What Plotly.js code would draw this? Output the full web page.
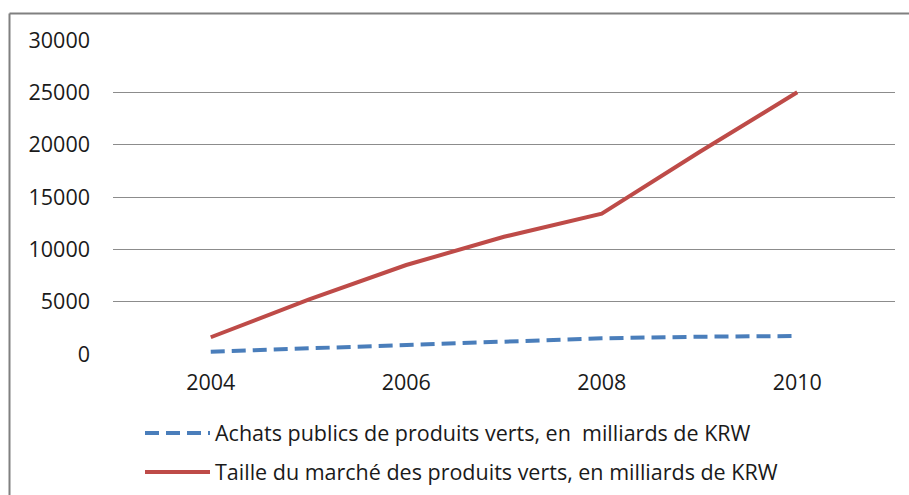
<!DOCTYPE html>
<html>
<head>
<meta charset="utf-8">
<script src="https://cdn.plot.ly/plotly-3.0.1.min.js"></script>
<style>html,body{margin:0;padding:0;background:#fff;}#chart{width:909px;height:495px;}</style>
</head>
<body>
<div id="chart"></div>
<script>
const years = [2004, 2005, 2006, 2007, 2008, 2009, 2010];
const achatsPublics = [220, 540, 920, 1180, 1500, 1650, 1720];
const tailleMarche = [1600, 5200, 8500, 11200, 13400, 19300, 25000];
const xTicks = [2004, 2006, 2008, 2010];
const yTicks = [0, 5000, 10000, 15000, 20000, 25000, 30000];
const nameAchats = "Achats publics de produits verts, en  milliards de KRW";
const nameTaille = "Taille du marché des produits verts, en milliards de KRW";

const FONT = "Open Sans, Liberation Sans, sans-serif";
const FS = 21.5;

const traces = [
  {x: years, y: achatsPublics, type: "scatter", mode: "lines", name: nameAchats,
   line: {color: "#4a7ebb", width: 4, dash: "14px,7px"}, legend: "legend"},
  {x: years, y: tailleMarche, type: "scatter", mode: "lines", name: nameTaille,
   line: {color: "#be4b48", width: 4}, legend: "legend2"}
];

const W = 909, H = 495, L = 113, R = 14, T = 40, B = 141;
const pw = W - L - R, ph = H - T - B;
const px = v => (v - L) / pw;
const py = v => (H - B - v) / ph;

const layout = {
  width: W, height: H,
  margin: {l: L, r: R, t: T, b: B, pad: 0, autoexpand: false},
  paper_bgcolor: "#ffffff", plot_bgcolor: "#ffffff",
  font: {family: FONT, size: FS, color: "#1a1a1a"},
  showlegend: true,
  xaxis: {range: [2003, 2011], tickmode: "array", tickvals: xTicks, ticktext: xTicks.map(String),
          showgrid: false, zeroline: false, showline: false, ticks: "", ticklabelstandoff: 13,
          tickfont: {size: FS, family: FONT, color: "#1a1a1a"}, fixedrange: true},
  yaxis: {range: [0, 30000], tickmode: "array", tickvals: yTicks, ticktext: yTicks.map(String),
          showgrid: true, gridcolor: "#8c8c8c", gridwidth: 1, zeroline: false, showline: false,
          ticks: "", ticklabelstandoff: 22,
          tickfont: {size: FS, family: FONT, color: "#1a1a1a"}, fixedrange: true},
  legend: {x: px(140), y: py(433), xanchor: "left", yanchor: "middle", bgcolor: "rgba(0,0,0,0)",
           font: {size: FS, family: FONT, color: "#1a1a1a"}, itemwidth: 65},
  legend2: {x: px(140), y: py(472), xanchor: "left", yanchor: "middle", bgcolor: "rgba(0,0,0,0)",
            font: {size: FS, family: FONT, color: "#1a1a1a"}, itemwidth: 65},
  shapes: [
    {type: "line", xref: "paper", yref: "paper", x0: px(9.5), x1: px(909), y0: py(13.5), y1: py(13.5),
     line: {color: "#808080", width: 2}},
    {type: "line", xref: "paper", yref: "paper", x0: px(9.5), x1: px(9.5), y0: py(13.5), y1: py(495),
     line: {color: "#808080", width: 2}}
  ]
};

Plotly.newPlot("chart", traces, layout, {displayModeBar: false, staticPlot: true});
</script>
</body>
</html>
